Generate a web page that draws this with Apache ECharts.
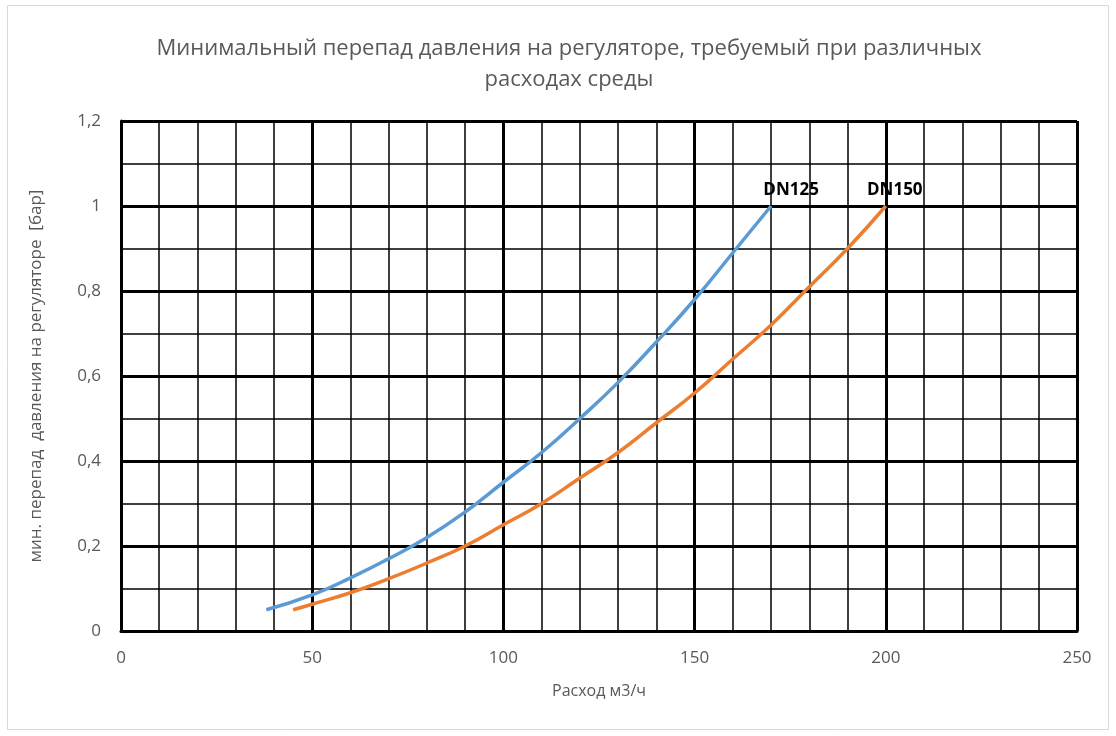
<!DOCTYPE html>
<html>
<head>
<meta charset="utf-8">
<title>Перепад давления</title>
<script src="https://cdn.jsdelivr.net/npm/echarts@6/dist/echarts.min.js"></script>
<style>
body{margin:0;background:#fff;}
#main{width:1116px;height:736px;}
</style>
</head>
<body>
<div id="main"></div>
<script>
// данные
var dn125X = [38, 50, 60, 70, 80, 90, 100, 110, 120, 130, 140, 150, 160, 170];
var dn125Y = [0.05, 0.085, 0.125, 0.17, 0.22, 0.28, 0.35, 0.42, 0.5, 0.585, 0.68, 0.78, 0.89, 1.0];
var dn150X = [45, 50, 60, 70, 80, 90, 100, 110, 120, 130, 140, 150, 160, 170, 180, 190, 200];
var dn150Y = [0.05, 0.063, 0.09, 0.123, 0.16, 0.2, 0.25, 0.3, 0.36, 0.42, 0.49, 0.56, 0.64, 0.72, 0.81, 0.9, 1.0];
var seriesNames = ['DN125', 'DN150'];

function pairs(xs, ys, name, dx){
	var out = [];
	for (var i = 0; i < xs.length; i++) {
		var p = {value: [xs[i], ys[i]]};
		if (i == xs.length - 1) {
			// подпись у конца кривой
			p.label = {show: true, position: 'top', formatter: name, offset: [dx, -2],
				color: '#000', fontWeight: 'bold', fontSize: 17, fontFamily: 'Open Sans'};
		}
		out.push(p);
	}
	return out;
}

var myChart = echarts.init(document.getElementById('main'));
var txt = '#595959';
var option = {
	animation: false,
	title: {
		text: 'Минимальный перепад давления на регуляторе, требуемый при различных\nрасходах среды',
		left: 564, top: 28, textAlign: 'center',
		textStyle: {color: txt, fontSize: 22, fontWeight: 'normal', fontFamily: 'Open Sans', lineHeight: 31}
	},
	graphic: [{
		type: 'rect', shape: {x: 7.5, y: 5.5, width: 1101, height: 724},
		style: {fill: 'none', stroke: '#d9d9d9', lineWidth: 1}, silent: true
	}],
	grid: {left: 121, top: 121, right: 39, bottom: 105},
	xAxis: {
		type: 'value', min: 0, max: 250, interval: 50,
		name: 'Расход м3/ч', nameLocation: 'middle', nameGap: 52,
		nameTextStyle: {color: txt, fontSize: 16, fontFamily: 'Open Sans'},
		axisLine: {show: true, lineStyle: {color: '#000', width: 3}},
		axisTick: {show: false},
		axisLabel: {color: txt, fontSize: 17, fontFamily: 'Open Sans', margin: 19},
		splitLine: {show: true, lineStyle: {color: '#000', width: 3}},
		minorTick: {show: true, splitNumber: 5, length: 0},
		minorSplitLine: {show: true, lineStyle: {color: '#000', width: 1.5}}
	},
	yAxis: {
		type: 'value', min: 0, max: 1.2, interval: 0.2,
		name: 'мин. перепад  давления на регуляторе  [бар]', nameLocation: 'middle', nameGap: 76,
		nameTextStyle: {color: txt, fontSize: 17, fontFamily: 'Open Sans'},
		axisLine: {show: true, lineStyle: {color: '#000', width: 3}},
		axisTick: {show: false},
		axisLabel: {color: txt, fontSize: 17, fontFamily: 'Open Sans', margin: 20,
			formatter: function(v){ return String(+v.toFixed(1)).replace('.', ','); }},
		splitLine: {show: true, lineStyle: {color: '#000', width: 3}},
		minorTick: {show: true, splitNumber: 2, length: 0},
		minorSplitLine: {show: true, lineStyle: {color: '#000', width: 1.5}}
	},
	series: [{
		name: seriesNames[0], type: 'line', smooth: true, showSymbol: true, symbol: 'circle', symbolSize: 0,
		lineStyle: {color: '#5B9BD5', width: 3.5},
		data: pairs(dn125X, dn125Y, seriesNames[0], 20), z: 5
	}, {
		name: seriesNames[1], type: 'line', smooth: true, showSymbol: true, symbol: 'circle', symbolSize: 0,
		lineStyle: {color: '#ED7D31', width: 3.5},
		data: pairs(dn150X, dn150Y, seriesNames[1], 9), z: 5
	}]
};
myChart.setOption(option);
</script>
</body>
</html>
